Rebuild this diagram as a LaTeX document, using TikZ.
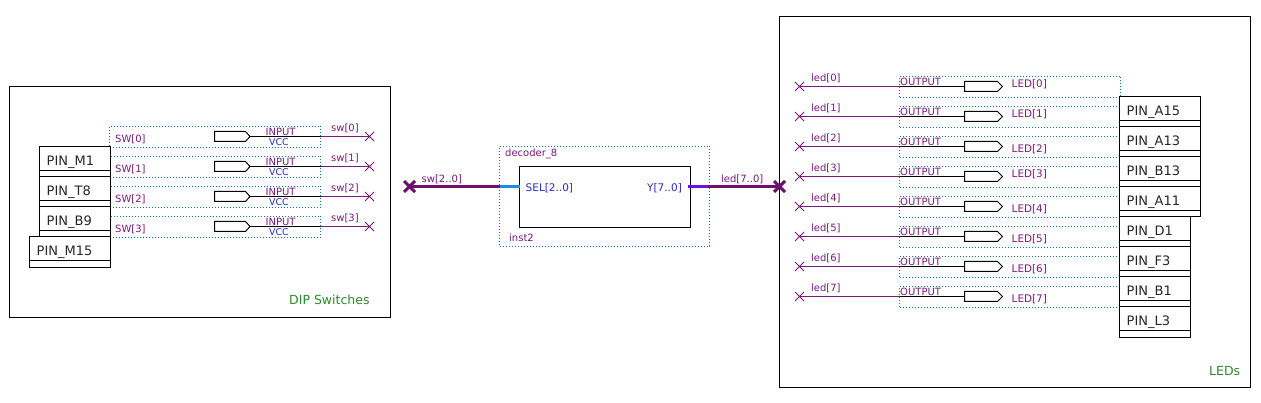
\documentclass[tikz,border=0pt]{standalone}
\usepackage{fontspec}
\setmainfont{DejaVu Sans}
\usetikzlibrary{calc,shapes.misc}
\definecolor{wirepurple}{HTML}{7A1A7A}
\definecolor{buspurple}{HTML}{6E0E6E}
\definecolor{busblue}{HTML}{1E8CE6}
\definecolor{busviolet}{HTML}{6A10E8}
\definecolor{textblue}{HTML}{2A2AC8}
\definecolor{dotteal}{HTML}{1A7A7A}
\definecolor{notegreen}{HTML}{2E8B2E}
\tikzset{
  framebox/.style={draw=black, line width=1pt, inner sep=0pt, outer sep=0pt, anchor=north west},
  dotbox/.style={draw=dotteal, line width=1pt, dash pattern=on 1pt off 2pt, inner sep=0pt, outer sep=0pt, anchor=north west},
  pinbox/.style={draw=black, fill=white, line width=1pt, inner sep=0pt, outer sep=0pt, anchor=north west},
  pinlabel/.style={inner sep=0pt, anchor=base west, font=\fontsize{13}{13}\selectfont, text=black!85},
  netlabel/.style={inner sep=0pt, anchor=base west, font=\fontsize{10}{10}\selectfont, text=wirepurple},
  bluelabel/.style={inner sep=0pt, anchor=base west, font=\fontsize{10.5}{10.5}\selectfont, text=textblue},
  notelabel/.style={inner sep=0pt, anchor=base west, font=\fontsize{12.5}{12.5}\selectfont, text=notegreen},
  crossmark/.style={cross out, draw=wirepurple, line width=1pt, inner sep=0pt, outer sep=0pt, minimum size=9pt},
  buscross/.style={cross out, draw=buspurple, line width=3pt, inner sep=0pt, outer sep=0pt, minimum size=11pt},
  wire/.style={draw=wirepurple, line width=1pt},
  blackwire/.style={draw=black, line width=1pt},
  bus/.style={draw=buspurple, line width=3pt},
}
% one pin assignment box with its lower strip
\newcommand{\pinassign}[6]{%
  \node[pinbox, minimum width=#4pt, minimum height=#5pt] (#1) at #2 {};
  \node[pinlabel] (#1t) at ($(#1.north west)+(7,19)$) {#3};
  \draw[line width=1pt] ($(#1.south west)+(0,#6)$) -- ($(#1.south east)+(0,#6)$);
}
\begin{document}
\begin{tikzpicture}[x=1pt,y=-1pt]
    \path[use as bounding box, fill=white] (0,0) rectangle (1261,403);
    % outer frames
    \node[framebox, minimum width=381pt, minimum height=231pt] (dipframe) at (9.5,86.5) {};
    \node[framebox, minimum width=471pt, minimum height=371pt] (ledframe) at (779.5,16.5) {};
    \node[notelabel] (diptext) at (289,305) {DIP Switches};
    \node[notelabel] (ledtext) at (1209,375) {LEDs};
    % input side
    \foreach \i in {0,1,2,3} {
        \node[dotbox, minimum width=211pt, minimum height=21pt] (swbox\i) at (109.5,{126.5+30*\i}) {};
        \coordinate (swtip\i) at (250,{136.5+30*\i});
        \coordinate (swedge\i) at (320.5,{136.5+30*\i});
        \node[crossmark] (swend\i) at (369.5,{136.5+30*\i}) {};
        \draw[line width=1pt] (214.5,{131.5+30*\i}) -- (245.5,{131.5+30*\i}) -- (swtip\i) -- (245.5,{141.5+30*\i}) -- (214.5,{141.5+30*\i}) -- cycle;
        \draw[blackwire] (swtip\i) -- (swedge\i);
        \draw[wire] (swedge\i) -- (swend\i.center);
        \node[netlabel] (swname\i) at (115,{142.5+30*\i}) {SW[\i]};
        \node[netlabel] (swnet\i) at (331,{132+30*\i}) {sw[\i]};
        \node[netlabel] (intype\i) at (265.5,{136+30*\i}) {INPUT};
        \node[bluelabel, font=\fontsize{9.4}{9.4}\selectfont] (vcc\i) at (269,{145.7+30*\i}) {VCC};
    }
    \pinassign{pinmone}{(39.5,146.5)}{PIN\_M1}{71}{30}{-6}
    \pinassign{pintei}{(39.5,176.5)}{PIN\_T8}{71}{30}{-6}
    \pinassign{pinbni}{(39.5,206.5)}{PIN\_B9}{71}{30}{-6}
    \pinassign{pinmfi}{(29.5,236.5)}{PIN\_M15}{81}{31}{-7}
    % decoder block
    \node[dotbox, minimum width=210pt, minimum height=100pt] (decbox) at (499.5,146.5) {};
    \node[framebox, minimum width=171pt, minimum height=61pt] (decoder) at (519.5,166.5) {};
    \node[netlabel] (decname) at (505,156.7) {decoder\_8};
    \node[netlabel] (instname) at (509,241.7) {inst2};
    \node[buscross] (swbus) at (409.5,186.5) {};
    \node[buscross] (ledbus) at (779.5,186.5) {};
    \coordinate (selin) at (499.5,186.5);
    \coordinate (yout) at (708,186.5);
    \coordinate (yedge) at (688,186.5);
    \draw[bus] (swbus.center) -- (selin);
    \draw[line width=3pt, busblue] (selin) -- (decoder.west |- selin);
    \draw[line width=3pt, busviolet] (yedge) -- (yout);
    \draw[bus] (yout) -- (ledbus.center);
    \node[netlabel] (swlabel) at (421.5,182.7) {sw[2..0]};
    \node[netlabel] (ledlabel) at (721,182.7) {led[7..0]};
    \node[bluelabel] (sellabel) at (525.5,191.7) {SEL[2..0]};
    \node[bluelabel] (ylabel) at (647,191.7) {Y[7..0]};
    % output side
    \foreach \i/\off in {0/87.7,1/117.7,2/152.7,3/177.7,4/212.7,5/242.7,6/272.7,7/302.7} {
        \node[dotbox, minimum width=221pt, minimum height=21pt] (ledbox\i) at (899.5,{76.5+30*\i}) {};
        \coordinate (ledtail\i) at (964.5,{86.5+30*\i});
        \coordinate (lededge\i) at (899.5,{86.5+30*\i});
        \node[crossmark] (ledend\i) at (799.5,{86.5+30*\i}) {};
        \draw[line width=1pt] (ledtail\i) -- (964.5,{81.5+30*\i}) -- (997.5,{81.5+30*\i}) -- (1002.5,{86.5+30*\i}) -- (997.5,{91.5+30*\i}) -- (964.5,{91.5+30*\i}) -- cycle;
        \draw[blackwire] (ledtail\i) -- (lededge\i);
        \draw[wire] (lededge\i) -- (ledend\i.center);
        \node[netlabel] (lednet\i) at (811,{81.7+30*\i}) {led[\i]};
        \node[netlabel] (outtype\i) at (900,{85.7+30*\i}) {OUTPUT};
        \node[netlabel, font=\fontsize{10.4}{10.4}\selectfont] (ledname\i) at (1011.5,\off) {LED[\i]};
    }
    \pinassign{pinaof}{(1119.5,96.5)}{PIN\_A15}{81}{30}{-6}
    \pinassign{pinaot}{(1119.5,126.5)}{PIN\_A13}{81}{30}{-6}
    \pinassign{pinbot}{(1119.5,156.5)}{PIN\_B13}{81}{30}{-6}
    \pinassign{pinaoo}{(1119.5,186.5)}{PIN\_A11}{81}{30}{-6}
    \pinassign{pindo}{(1119.5,216.5)}{PIN\_D1}{71}{30}{-6}
    \pinassign{pinft}{(1119.5,246.5)}{PIN\_F3}{71}{30}{-6}
    \pinassign{pinbo}{(1119.5,276.5)}{PIN\_B1}{71}{30}{-6}
    \pinassign{pinlt}{(1119.5,306.5)}{PIN\_L3}{71}{31}{-7}
\end{tikzpicture}
\end{document}
